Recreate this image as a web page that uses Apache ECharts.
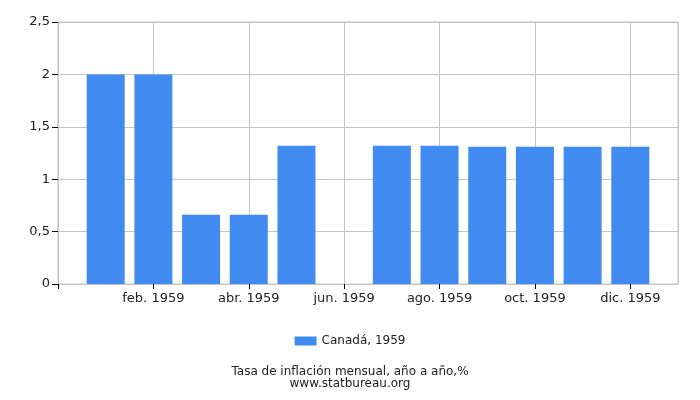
<!DOCTYPE html>
<html>
<head>
<meta charset="utf-8">
<script src="https://cdn.jsdelivr.net/npm/echarts@6/dist/echarts.min.js"></script>
<style>
  html, body { margin: 0; padding: 0; background: #fff; }
  #chart { width: 700px; height: 400px; }
</style>
</head>
<body>
<div id="chart"></div>
<script>
// meses (posición en el eje x = índice + 1)
const months = ['ene. 1959', 'feb. 1959', 'mar. 1959', 'abr. 1959', 'may. 1959', 'jun. 1959',
  'jul. 1959', 'ago. 1959', 'sep. 1959', 'oct. 1959', 'nov. 1959', 'dic. 1959'];
const values = [2, 2, 0.66, 0.66, 1.32, 0, 1.32, 1.32, 1.31, 1.31, 1.31, 1.31];
const seriesName = 'Canadá, 1959';
const titleText = 'Tasa de inflación mensual, año a año,%';
const subText = 'www.statbureau.org';

const font = 'DejaVu Sans';
const gridColor = '#c4c4c4';

let myChart = echarts.init(document.getElementById('chart'));
myChart.setOption({
  animation: false,
  textStyle: { fontFamily: font },
  title: {
    text: titleText,
    subtext: subText,
    left: 'center',
    top: 361,
    itemGap: 0,
    textStyle: { fontSize: 12, fontWeight: 'normal', color: '#222', fontFamily: font },
    subtextStyle: { fontSize: 12, color: '#222', fontFamily: font }
  },
  legend: {
    data: [seriesName],
    left: 'center',
    top: 330,
    itemWidth: 22,
    itemHeight: 9,
    itemGap: 5,
    icon: 'rect',
    textStyle: { fontSize: 12, color: '#222', fontFamily: font }
  },
  grid: {
    left: 58,
    right: 22,
    top: 22,
    bottom: 116,
    show: true,
    borderColor: gridColor,
    borderWidth: 1
  },
  xAxis: {
    type: 'value',
    min: 0,
    max: 13,
    interval: 2,
    axisLine: { show: true, lineStyle: { color: gridColor } },
    axisTick: { show: true, length: 5, lineStyle: { color: '#000' } },
    axisLabel: {
      fontSize: 13,
      color: '#222',
      margin: 8,
      showMaxLabel: false,
      formatter: v => (v >= 1 && v <= 12 ? months[v - 1] : '')
    },
    splitLine: { show: true, lineStyle: { color: gridColor } }
  },
  yAxis: {
    type: 'value',
    min: 0,
    max: 2.5,
    interval: 0.5,
    axisLine: { show: true, lineStyle: { color: gridColor } },
    axisTick: { show: true, length: 6, lineStyle: { color: '#000' } },
    axisLabel: {
      fontSize: 13,
      color: '#222',
      margin: 8,
      formatter: v => String(v).replace('.', ',')
    },
    splitLine: { show: true, lineStyle: { color: gridColor } }
  },
  series: [{
    name: seriesName,
    type: 'bar',
    barWidth: 38,
    itemStyle: { color: '#418bf0' },
    data: values.map((v, i) => [i + 1, v])
  }]
});
</script>
</body>
</html>
